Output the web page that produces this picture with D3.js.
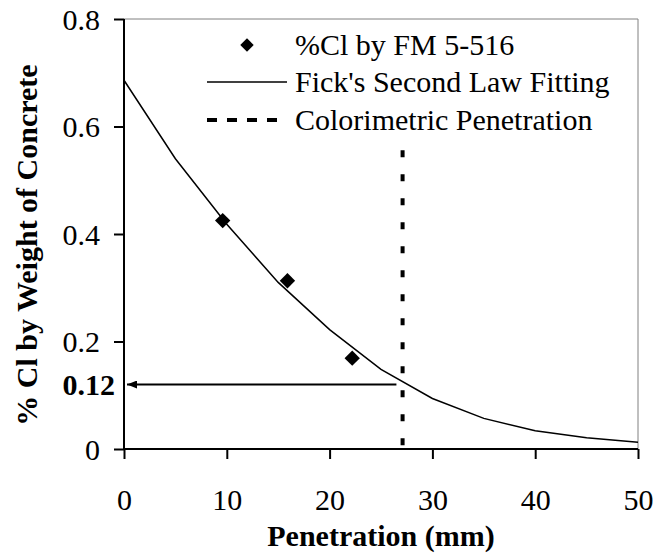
<!DOCTYPE html>
<html>
<head>
<meta charset="utf-8">
<script src="https://cdn.jsdelivr.net/npm/d3@7"></script>
<style>
    body { margin: 0; background: #fff; }
    svg text { font-family: "Liberation Serif", "Times New Roman", serif; fill: #000; }
</style>
</head>
<body>
<div id="chart"></div>
<script>
// measured points (%Cl by FM 5-516)
var measuredDepth = [9.6, 15.9, 22.2];
var measuredCl = [0.425, 0.313, 0.169];

var fitDepth = [0, 5, 10, 15, 20, 25, 30, 35, 40, 45, 50];
var fitCl = [0.686, 0.54, 0.418, 0.31, 0.222, 0.148, 0.094, 0.057, 0.034, 0.021, 0.0125];

var colorimetricDepth = 27.1;
var colorimetricTop = 0.556;
var thresholdCl = 0.12;
var arrowEndDepth = 26.5;

var xTicks = [0, 10, 20, 30, 40, 50];
var yTicks = [0, 0.2, 0.4, 0.6, 0.8];

var legendLabels = ['%Cl by FM 5-516', "Fick's Second Law Fitting", 'Colorimetric Penetration'];

(function () {
    var width = 656, height = 556;
    var left = 124, right = 638, top = 19, bottom = 449;

    var svg = d3.select('#chart').append('svg')
        .attr('width', width)
        .attr('height', height);

    var x = d3.scaleLinear().domain([0, 50]).range([left, right]);
    var y = d3.scaleLinear().domain([0, 0.8]).range([bottom, top]);

    // plot frame (top and right are thin grey)
    svg.append('path')
        .attr('d', 'M' + left + ',' + top + 'H' + right + 'V' + bottom)
        .attr('fill', 'none')
        .attr('stroke', '#808080')
        .attr('stroke-width', 1);

    // axes
    var xAxis = svg.append('g')
        .attr('transform', 'translate(0,' + bottom + ')')
        .call(d3.axisBottom(x).tickValues(xTicks).tickSize(10).tickPadding(30).tickFormat(d3.format('d')));
    var yAxis = svg.append('g')
        .attr('transform', 'translate(' + left + ',0)')
        .call(d3.axisLeft(y).tickValues(yTicks).tickSize(10).tickPadding(14)
            .tickFormat(function (d) { return d === 0 ? '0' : d3.format('.1f')(d); }));

    [xAxis, yAxis].forEach(function (a) {
        a.select('.domain').attr('stroke', '#000').attr('stroke-width', 2);
        a.selectAll('.tick line').attr('stroke', '#000').attr('stroke-width', 2);
        a.selectAll('.tick text')
            .style('font-family', '"Liberation Serif", serif')
            .style('font-size', '30px')
            .attr('fill', '#000');
    });
    // d3 puts the domain path with outer ticks; rebuild as plain lines
    xAxis.select('.domain').attr('d', 'M' + left + ',0H' + right);
    yAxis.select('.domain').attr('d', 'M0,' + top + 'V' + bottom);
    yAxis.selectAll('.tick text').attr('dy', '0.34em');

    // bold 0.12 label
    svg.append('text')
        .attr('x', 115)
        .attr('y', y(thresholdCl))
        .attr('dy', '0.34em')
        .attr('text-anchor', 'end')
        .style('font-size', '30px')
        .style('font-weight', 'bold')
        .text('0.12');

    // fitted curve
    var line = d3.line()
        .x(function (d, i) { return x(fitDepth[i]); })
        .y(function (d) { return y(d); });

    svg.append('path')
        .datum(fitCl)
        .attr('d', line)
        .attr('fill', 'none')
        .attr('stroke', '#000')
        .attr('stroke-width', 1.5);

    // colorimetric penetration
    svg.append('line')
        .attr('x1', x(colorimetricDepth))
        .attr('x2', x(colorimetricDepth))
        .attr('y1', y(colorimetricTop))
        .attr('y2', bottom)
        .attr('stroke', '#000')
        .attr('stroke-width', 4)
        .attr('stroke-dasharray', '7,17');

    // arrow to the y axis
    svg.append('defs').append('marker')
        .attr('id', 'arrow')
        .attr('viewBox', '0 0 10 8')
        .attr('refX', 0)
        .attr('refY', 4)
        .attr('markerWidth', 10)
        .attr('markerHeight', 8)
        .attr('markerUnits', 'userSpaceOnUse')
        .attr('orient', 'auto')
        .append('path')
        .attr('d', 'M0,4L10,0L10,8Z')
        .attr('fill', '#000');

    svg.append('line')
        .attr('x1', x(0) + 3)
        .attr('x2', x(arrowEndDepth))
        .attr('y1', y(thresholdCl))
        .attr('y2', y(thresholdCl))
        .attr('stroke', '#000')
        .attr('stroke-width', 2)
        .attr('marker-start', 'url(#arrow)');

    // measured diamonds
    var diamond = d3.symbol().type(d3.symbolDiamond2).size(150);
    svg.selectAll('.pt')
        .data(measuredCl)
        .enter().append('path')
        .attr('class', 'pt')
        .attr('transform', function (d, i) { return 'translate(' + x(measuredDepth[i]) + ',' + y(d) + ')'; })
        .attr('d', diamond)
        .attr('fill', '#000');

    // legend
    var lg = svg.append('g');
    var rows = [45, 82, 120];
    var sx0 = 207, sx1 = 287, tx = 295;

    lg.append('path')
        .attr('transform', 'translate(' + ((sx0 + sx1) / 2) + ',' + rows[0] + ')')
        .attr('d', d3.symbol().type(d3.symbolDiamond2).size(115))
        .attr('fill', '#000');
    lg.append('line')
        .attr('x1', sx0).attr('x2', sx1)
        .attr('y1', rows[1]).attr('y2', rows[1])
        .attr('stroke', '#000').attr('stroke-width', 1.5);
    lg.append('line')
        .attr('x1', sx0).attr('x2', sx1)
        .attr('y1', rows[2]).attr('y2', rows[2])
        .attr('stroke', '#000').attr('stroke-width', 4)
        .attr('stroke-dasharray', '10,10');

    lg.selectAll('.lt')
        .data(legendLabels)
        .enter().append('text')
        .attr('class', 'lt')
        .attr('x', tx)
        .attr('y', function (d, i) { return rows[i]; })
        .attr('dy', '0.34em')
        .style('font-size', '30px')
        .text(function (d) { return d; });

    // axis titles
    svg.append('text')
        .attr('x', (left + right) / 2)
        .attr('y', 546)
        .attr('text-anchor', 'middle')
        .style('font-size', '30px')
        .style('font-weight', 'bold')
        .text('Penetration (mm)');

    svg.append('text')
        .attr('transform', 'translate(37,245) rotate(-90)')
        .attr('text-anchor', 'middle')
        .style('font-size', '30px')
        .style('font-weight', 'bold')
        .text('% Cl by Weight of Concrete');
})();
</script>
</body>
</html>
